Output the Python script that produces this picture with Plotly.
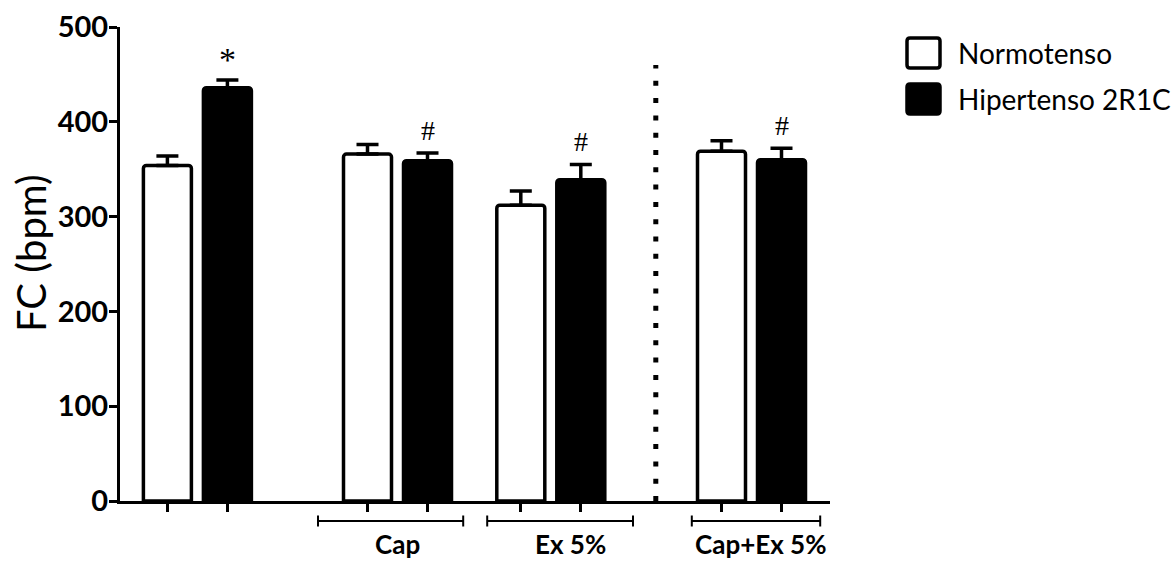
import plotly.graph_objects as go

# ---- data -------------------------------------------------------------
groups = ["", "Cap", "Ex 5%", "Cap+Ex 5%"]
series_names = ["Normotenso", "Hipertenso 2R1C"]
y_title = "FC (bpm)"
normotenso = [354, 366, 312, 369]
normotenso_err = [10, 10, 15, 11]
hipertenso = [436, 359, 339, 360]
hipertenso_err = [8, 8, 16, 12]
hipertenso_marks = ["*", "#", "#", "#"]
y_ticks = [0, 100, 200, 300, 400, 500]

# ---- layout constants -------------------------------------------------
W, H = 1174, 561
ML, MR, MT, MB = 120, 344, 27, 60
PW, PH = W - ML - MR, H - MT - MB
UNIT = 60.0                      # pixels per x unit
X_MAX = PW / UNIT
group_centers = [1.29, 4.625, 7.18, 10.525]
half_gap = 0.5
bar_w = 0.8
separator_x = 8.93
brackets = {1: (3.3, 5.72), 2: (6.12, 8.55), 3: (9.53, 11.67)}
label_x = {1: 4.63, 2: 7.5, 3: 10.68}
mark_style = {"*": (34, 0), "#": (28, 5)}   # font size, vertical shift

FONT = "Lato"
SERIF = "Liberation Serif"


def px_x(p):
    return (p - ML) / PW


def px_y(p):
    return (H - MB - p) / PH


x_norm = [c - half_gap for c in group_centers]
x_hip = [c + half_gap for c in group_centers]

fig = go.Figure()
fig.add_trace(go.Bar(
    x=x_norm, y=normotenso, width=bar_w, name=series_names[0],
    marker=dict(color="white", line=dict(color="black", width=3.5)),
    error_y=dict(type="data", symmetric=False, array=normotenso_err,
                 arrayminus=[0] * len(normotenso), color="black",
                 thickness=3.5, width=11),
    showlegend=False,
))
fig.add_trace(go.Bar(
    x=x_hip, y=hipertenso, width=bar_w, name=series_names[1],
    marker=dict(color="black", line=dict(color="black", width=3.5)),
    error_y=dict(type="data", symmetric=False, array=hipertenso_err,
                 arrayminus=[0] * len(hipertenso), color="black",
                 thickness=3.5, width=11),
    showlegend=False,
))

shapes = []
annotations = []

# significance marks above the hypertensive bars
for xv, v, e, m in zip(x_hip, hipertenso, hipertenso_err, hipertenso_marks):
    if m:
        size, shift = mark_style[m]
        annotations.append(dict(
            x=xv, y=v + e, xref="x", yref="y", text=m, showarrow=False,
            yanchor="bottom", yshift=shift,
            font=dict(family=SERIF, size=size, color="black"),
        ))

# dotted separator
shapes.append(dict(
    type="line", xref="x", yref="y", x0=separator_x, x1=separator_x,
    y0=0, y1=460, line=dict(color="black", width=5, dash="5px,12.3px"),
))

# group brackets and labels under the axis
by = px_y(521)
tick_h = 5.5 / PH
for gi, (a, b) in brackets.items():
    shapes.append(dict(type="line", xref="x", yref="paper", x0=a, x1=b,
                       y0=by, y1=by, line=dict(color="black", width=2)))
    for xe in (a, b):
        shapes.append(dict(type="line", xref="x", yref="paper", x0=xe, x1=xe,
                           y0=by - tick_h, y1=by + tick_h,
                           line=dict(color="black", width=2)))
    annotations.append(dict(
        x=label_x[gi], y=px_y(544), xref="x", yref="paper", text=groups[gi],
        showarrow=False, yanchor="middle", xanchor="center",
        font=dict(family=FONT, size=26, color="black", weight="bold"),
    ))

# y-axis title
annotations.append(dict(
    x=px_x(31), y=px_y(253), xref="paper", yref="paper", text=y_title,
    textangle=-90, showarrow=False, xanchor="center", yanchor="middle",
    font=dict(family=FONT, size=40, color="black"),
))


def rounded_box(x0, y0, x1, y1, r):
    """SVG path of a rectangle with rounded corners, in paper units."""
    rx, ry = r / PW, r / PH
    return (f"M{x0 + rx},{y0} L{x1 - rx},{y0} Q{x1},{y0} {x1},{y0 + ry} "
            f"L{x1},{y1 - ry} Q{x1},{y1} {x1 - rx},{y1} "
            f"L{x0 + rx},{y1} Q{x0},{y1} {x0},{y1 - ry} "
            f"L{x0},{y0 + ry} Q{x0},{y0} {x0 + rx},{y0} Z")


# legend
legend_rows = [(series_names[0], "white", 53), (series_names[1], "black", 99)]
for name, fill, cy in legend_rows:
    shapes.append(dict(
        type="path", xref="paper", yref="paper",
        path=rounded_box(px_x(907), px_y(cy + 15), px_x(940), px_y(cy - 15), 3),
        fillcolor=fill, line=dict(color="black", width=3.5),
    ))
    annotations.append(dict(
        x=px_x(956), y=px_y(cy), xref="paper", yref="paper", text=name,
        showarrow=False, xanchor="left", yanchor="middle",
        font=dict(family=FONT, size=28, color="black"),
    ))

all_centers = sorted(x_norm + x_hip)

fig.update_layout(
    width=W, height=H, margin=dict(l=ML, r=MR, t=MT, b=MB, autoexpand=False),
    paper_bgcolor="white", plot_bgcolor="white",
    barmode="overlay", barcornerradius=3,
    shapes=shapes, annotations=annotations, showlegend=False,
    xaxis=dict(
        range=[0, X_MAX], showgrid=False, zeroline=False,
        showline=True, linecolor="black", linewidth=3,
        tickvals=all_centers, ticktext=[""] * len(all_centers),
        ticks="outside", ticklen=8, tickwidth=2.5, tickcolor="black",
    ),
    yaxis=dict(
        range=[0, 500], showgrid=False, zeroline=False,
        showline=True, linecolor="black", linewidth=3,
        tickvals=y_ticks, ticks="outside", ticklen=8, tickwidth=3,
        tickcolor="black", ticklabelstandoff=-5,
        tickfont=dict(family=FONT, size=29, color="black", weight="bold"),
    ),
)

fig.write_html("out.html")
